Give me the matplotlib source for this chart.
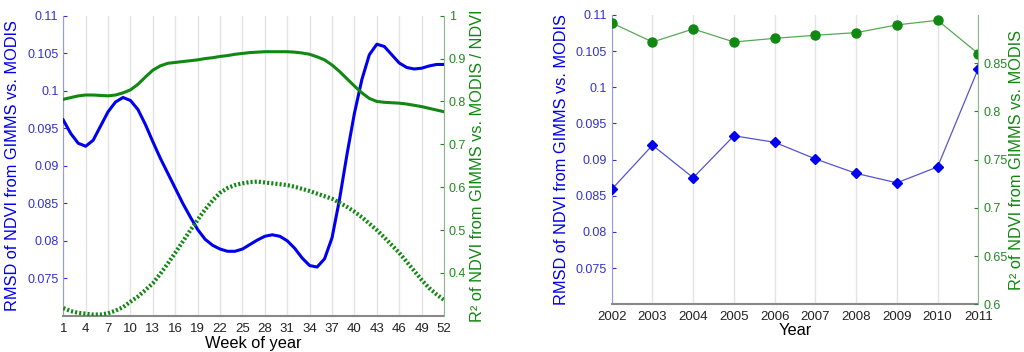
import matplotlib
matplotlib.use("Agg")
import matplotlib.pyplot as plt

plt.rcParams['font.family'] = ['Liberation Sans', 'DejaVu Sans']

# weekly data (left panel)
weeks = list(range(1, 53))
rmsd_week = [0.0961, 0.0943, 0.0930, 0.0926, 0.0934, 0.0953, 0.0972, 0.0985, 0.0991, 0.0987,
             0.0975, 0.0955, 0.0932, 0.0910, 0.0890, 0.0870, 0.0850, 0.0832, 0.0815, 0.0802,
             0.0794, 0.0789, 0.0786, 0.0786, 0.0789, 0.0795, 0.0801, 0.0806, 0.0808, 0.0806,
             0.0800, 0.0790, 0.0777, 0.0767, 0.0765, 0.0776, 0.0804, 0.0855, 0.0915, 0.0970,
             0.1015, 0.1048, 0.1062, 0.1059, 0.1048, 0.1037, 0.1031, 0.1029, 0.1030, 0.1033,
             0.1035, 0.1035]
r2_week = [0.805, 0.809, 0.813, 0.815, 0.815, 0.814, 0.813, 0.815, 0.820, 0.827,
           0.840, 0.857, 0.873, 0.883, 0.889, 0.891, 0.893, 0.895, 0.897, 0.900,
           0.902, 0.905, 0.907, 0.910, 0.912, 0.914, 0.915, 0.916, 0.916, 0.916,
           0.916, 0.915, 0.913, 0.910, 0.904, 0.897, 0.885, 0.870, 0.853, 0.836,
           0.820, 0.807, 0.800, 0.798, 0.797, 0.796, 0.794, 0.791, 0.788, 0.784,
           0.780, 0.776]
ndvi_week = [0.318, 0.311, 0.307, 0.305, 0.303, 0.303, 0.306, 0.312, 0.320, 0.333,
             0.345, 0.360, 0.376, 0.398, 0.422, 0.447, 0.473, 0.499, 0.524, 0.548,
             0.569, 0.587, 0.598, 0.605, 0.609, 0.612, 0.613, 0.611, 0.609, 0.607,
             0.605, 0.601, 0.596, 0.591, 0.585, 0.579, 0.573, 0.564, 0.554, 0.543,
             0.530, 0.515, 0.500, 0.483, 0.465, 0.447, 0.426, 0.405, 0.384, 0.365,
             0.350, 0.337]

# yearly data (right panel)
years = list(range(2002, 2012))
rmsd_year = [0.0859, 0.0920, 0.0875, 0.0933, 0.0924, 0.0901, 0.0881, 0.0868, 0.0890, 0.1026]
r2_year = [0.8918, 0.8720, 0.8855, 0.8720, 0.8758, 0.8790, 0.8817, 0.8897, 0.8945, 0.8599]

rmsd_ticks = [0.075, 0.08, 0.085, 0.09, 0.095, 0.1, 0.105, 0.11]
rmsd_labels = ['0.075', '0.08', '0.085', '0.09', '0.095', '0.1', '0.105', '0.11']

blue = '#0000ee'
green = '#118811'
blue_txt = '#3333cc'
green_txt = '#228822'
lab_size = 11.8
tick_size = 9

fig = plt.figure(figsize=(10.24, 3.52), dpi=100)


def style(ax, ax2):
    ax.spines['top'].set_visible(False)
    ax.spines['right'].set_visible(False)
    ax2.spines['top'].set_visible(False)
    ax2.spines['left'].set_visible(False)
    ax2.spines['bottom'].set_visible(False)
    ax.spines['left'].set_color('#9999dd')
    ax.spines['bottom'].set_color('#888888')
    ax.spines['bottom'].set_linewidth(1.5)
    ax2.spines['right'].set_color('#88bb88')
    ax.tick_params(axis='y', colors=blue_txt, labelsize=tick_size, length=3, direction='in')
    ax.tick_params(axis='x', colors='#222222', labelsize=tick_size + 0.5, length=0, pad=5)
    ax2.tick_params(axis='y', colors=green_txt, labelsize=tick_size, length=3, direction='in')
    ax.grid(axis='x', color='#e4e4e4', linewidth=1)
    ax.set_axisbelow(True)


# left panel
ax = fig.add_axes([0.0618, 0.1028, 0.3718, 0.8526])
ax2 = ax.twinx()
style(ax, ax2)
ax.plot(weeks, rmsd_week, color=blue, linewidth=2.2, zorder=3)
ax2.plot(weeks, r2_week, color=green, linewidth=2.2)
ax2.plot(weeks, ndvi_week, color=green, linewidth=3, linestyle=(0, (0.5, 0.5)))
ax.set_xlim(1, 52)
ax.set_xticks(list(range(1, 53, 3)))
ax.set_ylim(0.07, 0.11)
ax.set_yticks(rmsd_ticks)
ax.set_yticklabels(rmsd_labels)
ax2.set_ylim(0.3, 1.0)
ax2.set_yticks([0.4, 0.5, 0.6, 0.7, 0.8, 0.9, 1.0])
ax2.set_yticklabels(['0.4', '0.5', '0.6', '0.7', '0.8', '0.9', '1'])
ax.set_xlabel('Week of year', fontsize=lab_size, labelpad=1)
ax.set_ylabel('RMSD of NDVI from GIMMS vs. MODIS', fontsize=lab_size, color=blue, labelpad=5)
ax2.set_ylabel('R² of NDVI from GIMMS vs. MODIS / NDVI', fontsize=lab_size, color=green, labelpad=3)

# right panel
bx = fig.add_axes([0.5974, 0.1355, 0.358, 0.8219])
bx2 = bx.twinx()
style(bx, bx2)
bx.plot(years, rmsd_year, color='#5555cc', linewidth=0.9, marker='D', markersize=5.5,
        markerfacecolor=blue, markeredgecolor=blue, zorder=3)
bx2.plot(years, r2_year, color='#55aa55', linewidth=0.9, marker='o', markersize=6.5,
         markerfacecolor=green, markeredgecolor=green)
bx.set_xlim(2002, 2011)
bx.set_xticks(years)
bx.set_ylim(0.07, 0.11)
bx.set_yticks(rmsd_ticks)
bx.set_yticklabels(rmsd_labels)
bx2.set_ylim(0.6, 0.9)
bx2.set_yticks([0.6, 0.65, 0.7, 0.75, 0.8, 0.85])
bx2.set_yticklabels(['0.6', '0.65', '0.7', '0.75', '0.8', '0.85'])
bx.set_xlabel('Year', fontsize=lab_size, labelpad=0)
bx.set_ylabel('RMSD of NDVI from GIMMS vs. MODIS', fontsize=lab_size, color=blue, labelpad=5)
bx2.set_ylabel('R² of NDVI from GIMMS vs. MODIS', fontsize=lab_size, color=green, labelpad=1)

fig.savefig('out.png', dpi=100)
